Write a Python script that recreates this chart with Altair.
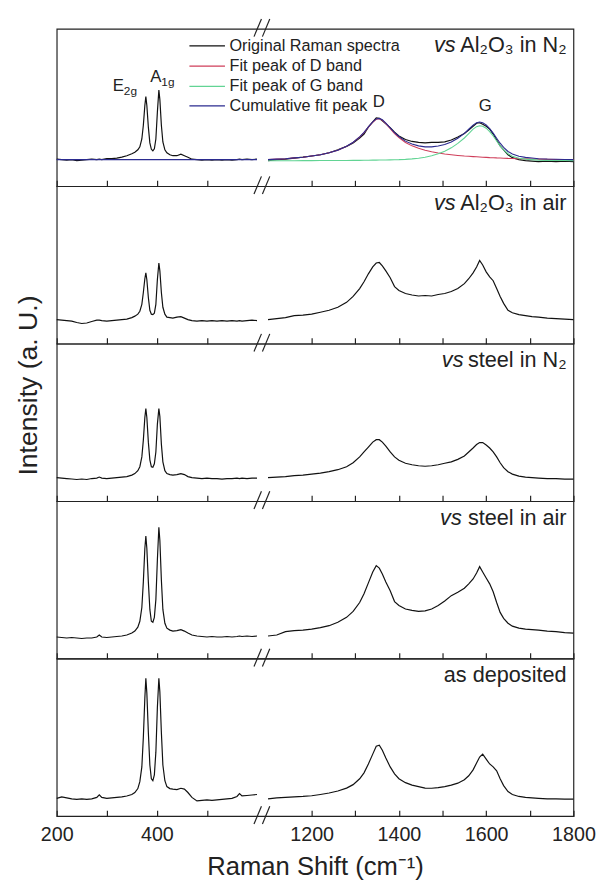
import altair as alt
import pandas as pd

# ---------------- data ----------------
LEFT_X = [200, 210, 220, 230, 240, 250, 260, 270, 280, 285, 290, 300, 310, 320, 330, 340, 350, 356, 362, 366,
          370, 373, 376, 378, 380, 383, 386, 389, 392, 395, 398, 401, 404, 406, 409, 412, 416, 420, 426, 432,
          440, 448, 455, 462, 470, 480, 490, 500, 510, 520, 530, 540, 550, 560, 565, 570, 580, 590, 600]
RIGHT_X = [1100, 1120, 1140, 1160, 1180, 1200, 1220, 1240, 1260, 1280, 1295, 1310, 1320, 1330, 1340, 1348, 1355, 1362, 1370, 1380,
           1390, 1400, 1415, 1430, 1445, 1460, 1475, 1490, 1505, 1520, 1535, 1550, 1560, 1570, 1578, 1585, 1592, 1600, 1608, 1616,
           1624, 1632, 1640, 1650, 1660, 1675, 1690, 1705, 1720, 1740, 1760, 1780, 1800]

# panel 1 : vs Al2O3 in N2
P1_LEFT = [27.5, 27, 26.5, 27, 26, 26.5, 27, 27.5, 27, 27.5, 27, 28, 28, 28.5, 29.5, 31, 33, 34.5, 37, 40,
           48, 62, 82, 91, 82, 60, 44, 37.5, 36, 38, 48, 75, 97.6, 88, 62, 45, 37, 34, 32, 31,
           31, 32.5, 31, 29.5, 27.5, 27, 26.5, 27, 26.5, 27, 26.5, 27, 26.5, 27, 27.5, 27, 27.5, 27, 27.5]
P1_RIGHT = [26, 27, 27.5, 28.5, 29.5, 30.7, 32, 34, 37, 40.5, 44, 49, 53, 60, 65.5, 69.5, 69, 66.5, 63.5, 59.5,
            55, 51, 47.5, 45.5, 44.5, 44, 44.5, 44.5, 45, 47, 50, 53.5, 57, 61, 64, 64.5, 63, 61, 58, 53,
            47, 41, 37, 32, 29, 27, 26, 25.5, 25, 25.5, 25, 25.5, 25]
FIT_D = [27, 27.5, 28, 28.8, 29.5, 30.7, 32, 34, 36.5, 40.5, 44.5, 50, 54.5, 60, 65, 68, 68.5, 67, 63.5, 58.5,
         53.5, 49.5, 44.5, 41, 38.5, 36.5, 35, 33.8, 32.8, 32, 31.3, 30.7, 30.4, 30.1, 29.9, 29.7, 29.5, 29.3, 29.1, 29,
         28.8, 28.7, 28.5, 28.3, 28.2, 28, 27.8, 27.6, 27.5, 27.3, 27.2, 27, 27]
FIT_G = [25.8, 25.8, 25.9, 25.9, 26, 26, 26.1, 26.1, 26.2, 26.2, 26.3, 26.3, 26.4, 26.4, 26.5, 26.5, 26.6, 26.6, 26.7, 26.8,
         26.9, 27, 27.3, 27.8, 28.5, 29.5, 31, 33, 35.5, 39, 43.5, 49, 53.5, 58, 60.5, 61.5, 61, 59, 55.5, 51,
         46, 41, 37, 33, 30.5, 28.5, 27.5, 27, 26.5, 26.3, 26.2, 26.1, 26]
FIT_SUM = [27, 27.5, 28, 28.8, 29.5, 30.7, 32, 34, 36.6, 40.6, 44.7, 50.2, 54.7, 60.3, 65.3, 68.4, 68.9, 67.5, 64.1, 59.3,
           54.4, 50.5, 45.8, 42.8, 41, 40, 40, 40.8, 42.3, 45, 48.8, 53.7, 57.9, 62.1, 64.4, 65.2, 64.5, 62.3, 58.6, 54,
           48.8, 43.7, 39.5, 35.3, 32.7, 30.5, 29.3, 28.6, 28, 27.6, 27.4, 27.1, 27]
FIT_SUM_LEFT_X = [200, 600]
FIT_SUM_LEFT = [27, 27]

# panel 2 : vs Al2O3 in air
P2_LEFT = [24.5, 24, 23.5, 23, 21.5, 20.5, 21, 22.5, 24, 24, 23.5, 23, 23.5, 24, 24.5, 25, 26.5, 28, 30, 33,
           40, 52, 66, 72, 65, 47, 34, 30, 29.5, 31, 40, 65, 82, 74, 52, 37, 30, 27, 26.5, 26,
           27, 27.5, 26, 24.5, 23.5, 23, 23.5, 23, 23.5, 23, 23.5, 23, 23.5, 23, 23.5, 23, 23.5, 24, 23.5]
P2_RIGHT = [24.5, 25.5, 26.5, 28.5, 29, 30, 32, 34, 37, 42, 48, 56, 63, 71, 78, 82, 82.5, 79, 74, 67,
            58, 54, 51, 49.5, 48.5, 49, 48.5, 50, 51, 53, 56, 61, 66, 72, 78, 84.5, 80, 73, 68, 64,
            56, 48, 41, 34, 31.5, 29.5, 28.5, 27.5, 27, 26, 25.5, 25, 24.5]

# panel 3 : vs steel in N2
P3_LEFT = [24, 23.5, 23, 22.5, 22, 22.5, 22, 23, 23.5, 24.5, 23.5, 23, 23.5, 24, 24.5, 25, 26.5, 28, 31, 35,
           45, 62, 85, 94, 85, 60, 42, 35, 34.5, 38, 50, 78, 94, 86, 58, 40, 31, 28, 27, 26.5,
           27, 28, 27, 25, 24, 23.5, 23, 23.5, 23, 23, 22.5, 23, 23, 23.5, 23, 23.5, 23, 23.5, 23.5]
P3_RIGHT = [24, 24.5, 25, 26, 26.5, 27.5, 28.5, 30, 32, 35, 39, 45, 50, 55, 60, 62.5, 62.5, 60, 56, 50,
            45, 41.5, 38.5, 37, 36, 35.5, 36, 37, 38.5, 40, 42.5, 46, 50, 54, 57.5, 59.5, 59.5, 57, 54, 50,
            45, 39, 34, 30, 27.5, 25.5, 24.5, 24, 23.5, 23, 23, 22.5, 22.5]

# panel 4 : vs steel in air
P4_LEFT = [22, 21.5, 21, 21.5, 21, 20.5, 21, 21, 22, 24, 22, 21.5, 22, 22.5, 23, 24, 26, 28, 32, 38,
           52, 78, 112, 124.5, 112, 78, 50, 38, 37, 42, 60, 100, 133.5, 120, 80, 50, 36, 31, 29, 28,
           28.5, 29.5, 28, 26, 24, 23, 22.5, 22, 22.5, 22, 22, 22.5, 22, 22.5, 23, 22.5, 23, 22.5, 23]
P4_RIGHT = [23, 24, 27.5, 28.5, 29, 30, 31.5, 33.5, 37, 42, 48, 57, 66, 77, 88, 94.5, 92, 86, 78, 69,
            58, 54, 50.5, 49, 48, 48.5, 50.5, 54, 58.5, 64, 67.5, 71.5, 76, 81, 87, 93.5, 88, 82, 76, 68,
            57, 47, 41, 36, 33, 31, 30, 29.5, 29, 28, 27.5, 26.5, 26]

# panel 5 : as deposited
P5_LEFT = [18, 19.5, 18.5, 17.5, 17, 17.5, 17, 17.5, 19, 21.7, 19, 18, 18.5, 19, 19.5, 20.5, 22, 24, 28, 35,
           50, 80, 120, 140, 125, 85, 52, 38, 36, 42, 65, 110, 140, 126, 85, 52, 36, 30, 28, 27.5,
           27, 28.3, 27.5, 24, 19, 15.5, 16, 16.5, 16, 16.5, 17, 17.5, 18, 20, 23, 20.5, 21, 21.5, 22]
P5_RIGHT = [17.5, 18.5, 19, 19.5, 20, 20.7, 22, 23.5, 25.5, 28.5, 32, 38, 44, 53, 63, 71, 72, 67, 59, 50,
            43, 38, 34, 31.5, 30, 28.5, 28.3, 29, 30, 31.5, 33.5, 37, 41, 47, 54, 60, 63, 58, 53, 50,
            46, 38, 31, 25, 22, 20, 19, 18.5, 18, 17.5, 17.5, 17.3, 17.3]

LEGEND_LABELS = ["Original Raman spectra", "Fit peak of D band", "Fit peak of G band", "Cumulative fit peak"]
LEGEND_COLORS = ["#111111", "#cf3e5a", "#62d494", "#2b2b8f"]
LEGEND_Y = [142.7, 122, 101.5, 81.7]

PANEL_LABELS = [
    ("vs", "Al\u2082O\u2083 in N\u2082"),
    ("vs", "Al\u2082O\u2083 in air"),
    ("vs", "steel in N\u2082"),
    ("vs", "steel in air"),
    ("", "as deposited"),
]
PREFIX_END_X = [1530, 1530, 1548, 1544, 0]

# axis-break slashes: start / end x of the two strokes, and their vertical reach around the frame line
BREAK_X1 = [594, 846]
BREAK_X2 = [801, 1104]
BREAK_BELOW, BREAK_ABOVE = 8, 10

PANELS = [(P1_LEFT, P1_RIGHT), (P2_LEFT, P2_RIGHT), (P3_LEFT, P3_RIGHT), (P4_LEFT, P4_RIGHT), (P5_LEFT, P5_RIGHT)]

# ---------------- layout ----------------
W, H = 525, 160
FONT = "Liberation Sans"
xscale = alt.Scale(domain=[200, 600, 1100, 1800], range=[0, 203.5, 214.7, 525], nice=False, zero=False)
yscale = alt.Scale(domain=[0, 160], nice=False, zero=False)
TICKS = [200, 300, 400, 500, 1200, 1300, 1400, 1500, 1600, 1700, 1800]


def xaxis(bottom):
    common = dict(values=TICKS, domain=False, grid=False, ticks=True, tickSize=6, offset=-6,
                  tickColor="#222", tickWidth=1.2, format="d")
    if bottom:
        return alt.Axis(labels=True, labelFont=FONT, labelFontSize=20, labelColor="#222", labelPadding=9,
                        labelFlush=False,
                        labelExpr="indexof([200,400,1200,1400,1600,1800], datum.value) >= 0 ? datum.label : ''",
                        title="Raman Shift (cm\u207b\u00b9)", titleFont=FONT, titleFontSize=26,
                        titleFontWeight="normal", titleColor="#222", titlePadding=9, **common)
    return alt.Axis(labels=False, title=None, **common)


def yaxis(with_title):
    if with_title:
        return alt.Axis(labels=False, ticks=False, domain=False, grid=False, title="Intensity (a. U.)",
                        titleFont=FONT, titleFontSize=27, titleFontWeight="normal", titleColor="#222",
                        titlePadding=15, titleY=42)
    return alt.Axis(labels=False, ticks=False, domain=False, grid=False, title=None)


def spectrum_df(left, right):
    rows = [{"x": x, "y": y, "seg": "L"} for x, y in zip(LEFT_X, left)]
    rows += [{"x": x, "y": y, "seg": "R"} for x, y in zip(RIGHT_X, right)]
    return pd.DataFrame(rows)


def panel(i):
    left, right = PANELS[i]
    df = spectrum_df(left, right)
    layers = []
    base = alt.Chart(df).mark_line(color="#111", strokeWidth=1.2, interpolate="linear").encode(
        x=alt.X("x:Q", scale=xscale, axis=xaxis(i == 4)),
        y=alt.Y("y:Q", scale=yscale, axis=yaxis(i == 2)),
        detail="seg:N",
    )
    layers.append(base)

    if i == 0:
        for name, vals, col in [("D", FIT_D, LEGEND_COLORS[1]), ("G", FIT_G, LEGEND_COLORS[2]),
                                ("S", FIT_SUM, LEGEND_COLORS[3])]:
            fdf = pd.DataFrame({"x": RIGHT_X, "y": vals, "seg": "R"})
            if name == "S":
                fdf = pd.concat([fdf, pd.DataFrame({"x": FIT_SUM_LEFT_X, "y": FIT_SUM_LEFT, "seg": "L"})])
            layers.append(alt.Chart(fdf).mark_line(color=col, strokeWidth=1.1).encode(
                x=alt.X("x:Q", scale=xscale), y=alt.Y("y:Q", scale=yscale), detail="seg:N"))
        # legend (manual)
        ldf = pd.DataFrame({"x1": [465] * 4, "x2": [536] * 4, "xt": [545] * 4, "y": LEGEND_Y,
                            "label": LEGEND_LABELS, "color": LEGEND_COLORS})
        layers.append(alt.Chart(ldf).mark_rule(strokeWidth=1.3).encode(
            x=alt.X("x1:Q", scale=xscale), x2="x2:Q", y=alt.Y("y:Q", scale=yscale),
            color=alt.Color("color:N", scale=None)))
        layers.append(alt.Chart(ldf).mark_text(align="left", baseline="middle", font=FONT, fontSize=16.5,
                                               color="#222").encode(
            x=alt.X("xt:Q", scale=xscale), y=alt.Y("y:Q", scale=yscale), text="label:N"))
        # peak labels
        pk = pd.DataFrame({"x": [1354, 1598], "y": [86, 81], "t": ["D", "G"]})
        layers.append(alt.Chart(pk).mark_text(font=FONT, fontSize=17, color="#222", baseline="middle").encode(
            x=alt.X("x:Q", scale=xscale), y=alt.Y("y:Q", scale=yscale), text="t:N"))
        big = pd.DataFrame({"x": [334, 409], "y": [102, 111], "t": ["E", "A"]})
        layers.append(alt.Chart(big).mark_text(font=FONT, fontSize=17, color="#222", baseline="middle",
                                               align="right").encode(
            x=alt.X("x:Q", scale=xscale), y=alt.Y("y:Q", scale=yscale), text="t:N"))
        sub = pd.DataFrame({"x": [334, 409], "y": [97, 106], "t": ["2g", "1g"]})
        layers.append(alt.Chart(sub).mark_text(font=FONT, fontSize=12, color="#222", baseline="middle",
                                               align="left").encode(
            x=alt.X("x:Q", scale=xscale), y=alt.Y("y:Q", scale=yscale), text="t:N"))

    # panel label
    prefix, text = PANEL_LABELS[i]
    tdf = pd.DataFrame({"x": [1800], "y": [136], "t": [text]})
    layers.append(alt.Chart(tdf).mark_text(font=FONT, fontSize=22, color="#222", align="right",
                                           baseline="alphabetic", dx=-7).encode(
        x=alt.X("x:Q", scale=xscale), y=alt.Y("y:Q", scale=yscale), text="t:N"))
    if prefix:
        pdf = pd.DataFrame({"x": [PREFIX_END_X[i]], "y": [136], "t": [prefix]})
        layers.append(alt.Chart(pdf).mark_text(font=FONT, fontSize=22, fontStyle="italic", color="#222",
                                               align="right", baseline="alphabetic").encode(
            x=alt.X("x:Q", scale=xscale), y=alt.Y("y:Q", scale=yscale), text="t:N"))

    # axis-break slashes on the frame line(s)
    lines = [0, H] if i == 0 else [0]
    rows = []
    for ly in lines:
        for xa, xb in zip(BREAK_X1, BREAK_X2):
            rows.append({"xa": xa, "xb": xb, "ya": ly - BREAK_BELOW, "yb": ly + BREAK_ABOVE})
    bdf = pd.DataFrame(rows)
    layers.append(alt.Chart(bdf).mark_rule(color="#222", strokeWidth=1.2).encode(
        x=alt.X("xa:Q", scale=xscale), x2="xb:Q",
        y=alt.Y("ya:Q", scale=yscale), y2="yb:Q"))

    return alt.layer(*layers).properties(width=W, height=H)


chart = alt.vconcat(*[panel(i) for i in range(5)], spacing=0, bounds="flush").configure_view(
    stroke="#222", strokeWidth=1.2).properties(
    padding={"left": 5.5, "top": 2, "right": 5, "bottom": 5}, background="white")

chart.save("out.html", embed_options={"renderer": "svg", "actions": False})
